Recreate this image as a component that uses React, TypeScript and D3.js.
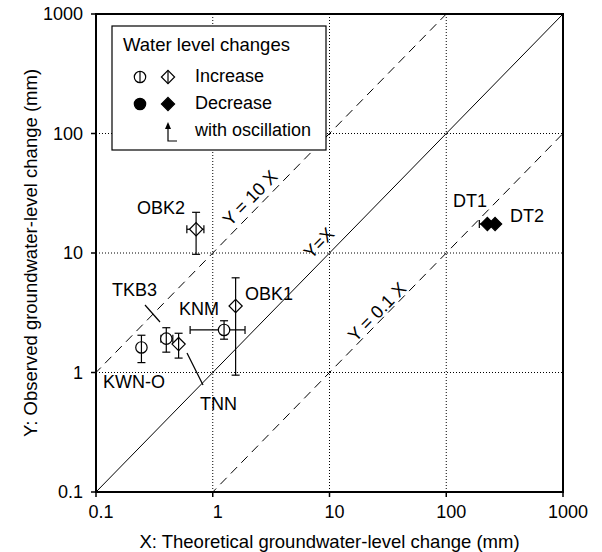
import React from "react";
import * as d3 from "d3";

const sites = ["KWN-O", "TKB3", "TNN", "KNM", "OBK1", "OBK2", "DT1", "DT2"];
const shapes = ["circle", "circle", "diamond", "circle", "diamond", "diamond", "diamond", "diamond"];
const decrease = [false, false, false, false, false, false, true, true];
const xVals = [0.245, 0.4, 0.51, 1.25, 1.57, 0.72, 225, 262];
const yVals = [1.62, 1.92, 1.73, 2.27, 3.6, 15.8, 17.5, 17.5];
const yLow = [1.21, 1.48, 1.32, 1.9, 0.95, 9.75, null, null];
const yHigh = [2.05, 2.37, 2.13, 2.71, 6.2, 21.9, null, null];
const xLow = [null, 0.36, null, 0.64, null, 0.6, 192, null];
const xHigh = [null, 0.455, null, 1.89, null, 0.84, 260, null];
const tickVals = [0.1, 1, 10, 100, 1000];
const tickLabels = ["0.1", "1", "10", "100", "1000"];
const refLines = [
  { k: 10, label: "Y = 10 X", dashed: true },
  { k: 1, label: "Y=X", dashed: false },
  { k: 0.1, label: "Y = 0.1 X", dashed: true },
];
const legendTitle = "Water level changes";
const legendItems = ["Increase", "Decrease", "with oscillation"];
const xTitle = "X: Theoretical groundwater-level change (mm)";
const yTitle = "Y: Observed groundwater-level change (mm)";

// layout (pixels)
const labelPos: [number, number][] = [
  [103, 388], [112, 296], [200, 410], [179, 315], [245, 300], [137, 214], [453, 207], [510, 222],
];
const leaderLines: ([number, number, number, number] | null)[] = [
  null, [145, 305, 160, 322], [187, 353, 203, 385], null, null, null, null, null,
];
const refLabelCenter: [number, number][] = [[251, 199], [320, 244], [378, 313]];

const L = 96, R = 563, T = 14, B = 492;
const FONT = "'Liberation Sans', Arial, sans-serif";

function Marker({ shape, filled, cx, cy }: { shape: string; filled: boolean; cx: number; cy: number }) {
  const fill = filled ? "#000" : "#fff";
  if (shape === "circle") {
    const r = 5.7;
    return (
      <g>
        <circle cx={cx} cy={cy} r={r} fill={fill} stroke="#000" strokeWidth={1.2} />
        {!filled && <line x1={cx} x2={cx} y1={cy - r} y2={cy + r} stroke="#000" strokeWidth={1.2} />}
      </g>
    );
  }
  const h = 6.6;
  return (
    <g>
      <path d={`M${cx},${cy - h}L${cx + h},${cy}L${cx},${cy + h}L${cx - h},${cy}Z`} fill={fill} stroke="#000" strokeWidth={1.2} />
      {!filled && <line x1={cx} x2={cx} y1={cy - h} y2={cy + h} stroke="#000" strokeWidth={1.2} />}
    </g>
  );
}

export default function App() {
  const x = d3.scaleLog().domain([0.1, 1000]).range([L, R]);
  const y = d3.scaleLog().domain([0.1, 1000]).range([B, T]);
  const angle = (Math.atan2(y(1) - y(10), x(10) - x(1)) * 180) / Math.PI;
  const cap = 4;

  return (
    <svg width={602} height={552} style={{ display: "block", position: "absolute", left: 0, top: 0 }} fontFamily={FONT}>
      <rect x={0} y={0} width={602} height={552} fill="#fff" />
      {/* grid */}
      {tickVals.slice(1, -1).map((v) => (
        <g key={"g" + v}>
          <line x1={x(v)} x2={x(v)} y1={T} y2={B} stroke="#000" strokeWidth={1} strokeDasharray="1,2" />
          <line x1={L} x2={R} y1={y(v)} y2={y(v)} stroke="#000" strokeWidth={1} strokeDasharray="1,2" />
        </g>
      ))}
      {/* reference lines */}
      <defs>
        <clipPath id="plot">
          <rect x={L} y={T} width={R - L} height={B - T} />
        </clipPath>
      </defs>
      <g clipPath="url(#plot)">
        {refLines.map((r) => (
          <line key={r.label} x1={x(0.01)} y1={y(0.01 * r.k)} x2={x(10000)} y2={y(10000 * r.k)}
            stroke="#000" strokeWidth={1} strokeDasharray={r.dashed ? "9,6" : undefined} />
        ))}
      </g>
      {refLines.map((r, i) => (
        <text key={"t" + r.label} x={refLabelCenter[i][0]} y={refLabelCenter[i][1]} fontSize={18} textAnchor="middle"
          dominantBaseline="middle" transform={`rotate(${-angle},${refLabelCenter[i][0]},${refLabelCenter[i][1]})`}>
          {r.label}
        </text>
      ))}
      {/* leader lines */}
      {leaderLines.map((l, i) => l && (
        <line key={"l" + i} x1={l[0]} y1={l[1]} x2={l[2]} y2={l[3]} stroke="#000" strokeWidth={1.2} />
      ))}
      {/* error bars */}
      {sites.map((s, i) => (
        <g key={"e" + s} stroke="#000" strokeWidth={1.2}>
          {yLow[i] != null && (
            <>
              <line x1={x(xVals[i])} x2={x(xVals[i])} y1={y(yLow[i] as number)} y2={y(yHigh[i] as number)} />
              <line x1={x(xVals[i]) - cap} x2={x(xVals[i]) + cap} y1={y(yLow[i] as number)} y2={y(yLow[i] as number)} />
              <line x1={x(xVals[i]) - cap} x2={x(xVals[i]) + cap} y1={y(yHigh[i] as number)} y2={y(yHigh[i] as number)} />
            </>
          )}
          {xLow[i] != null && (
            <>
              <line x1={x(xLow[i] as number)} x2={x(xHigh[i] as number)} y1={y(yVals[i])} y2={y(yVals[i])} />
              <line x1={x(xLow[i] as number)} x2={x(xLow[i] as number)} y1={y(yVals[i]) - cap} y2={y(yVals[i]) + cap} />
              <line x1={x(xHigh[i] as number)} x2={x(xHigh[i] as number)} y1={y(yVals[i]) - cap} y2={y(yVals[i]) + cap} />
            </>
          )}
        </g>
      ))}
      {/* markers */}
      {sites.map((s, i) => (
        <Marker key={"m" + s} shape={shapes[i]} filled={decrease[i]} cx={x(xVals[i])} cy={y(yVals[i])} />
      ))}
      {/* labels */}
      {sites.map((s, i) => (
        <text key={"n" + s} x={labelPos[i][0]} y={labelPos[i][1]} fontSize={18}>{s}</text>
      ))}
      {/* frame */}
      <rect x={L} y={T} width={R - L} height={B - T} fill="none" stroke="#000" strokeWidth={2} />
      {/* ticks */}
      {tickVals.map((v, i) => (
        <g key={"k" + v}>
          <line x1={x(v)} x2={x(v)} y1={B} y2={B + 5} stroke="#000" strokeWidth={1.5} />
          <text x={x(v) + 5} y={B + 26} fontSize={18} textAnchor="middle">{tickLabels[i]}</text>
          <line x1={L - 5} x2={L} y1={y(v)} y2={y(v)} stroke="#000" strokeWidth={1.5} />
          <text x={L - 13} y={y(v) + 6} fontSize={18} textAnchor="end">{tickLabels[i]}</text>
        </g>
      ))}
      <text x={(L + R) / 2} y={548} fontSize={18.5} textAnchor="middle">{xTitle}</text>
      <text x={0} y={0} fontSize={18.5} textAnchor="middle" transform={`translate(37,${(T + B) / 2}) rotate(-90)`}>{yTitle}</text>
      {/* legend */}
      <g>
        <rect x={112} y={26} width={214} height={124} fill="#fff" stroke="#000" strokeWidth={1.2} />
        <text x={123} y={51} fontSize={18.5}>{legendTitle}</text>
        <Marker shape="circle" filled={false} cx={140} cy={77} />
        <Marker shape="diamond" filled={false} cx={168} cy={77} />
        <text x={195} y={82} fontSize={18}>{legendItems[0]}</text>
        <Marker shape="circle" filled={true} cx={140} cy={104} />
        <Marker shape="diamond" filled={true} cx={168} cy={104} />
        <text x={195} y={109} fontSize={18}>{legendItems[1]}</text>
        <path d="M168,122 L165,129 L171,129 Z" fill="#000" />
        <path d="M168,128 L168,141 L177,141" fill="none" stroke="#000" strokeWidth={1.2} />
        <text x={195} y={136} fontSize={18}>{legendItems[2]}</text>
      </g>
    </svg>
  );
}
